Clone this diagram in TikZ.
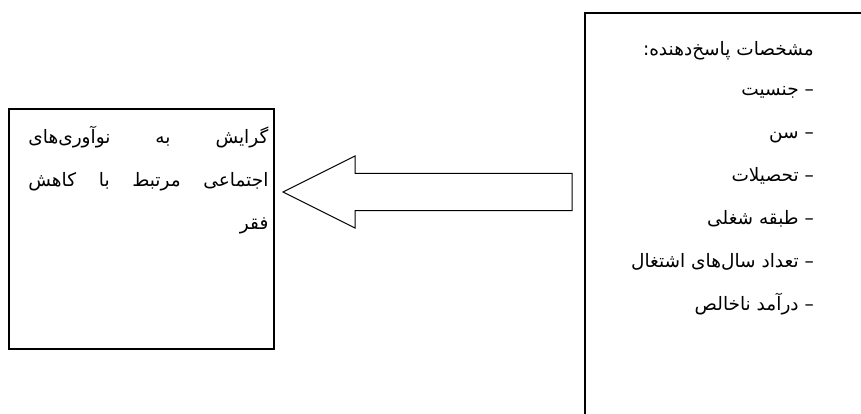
\documentclass[tikz,border=0pt]{standalone}
\usepackage{fontspec}
\newfontfamily\farsi[Script=Arabic]{DejaVu Sans}
\TeXXeTstate=1
\usetikzlibrary{positioning}
\newcommand{\fa}[1]{\beginR #1\endR}
\newcommand{\jline}[1]{\hbox to 240pt{\beginR #1\endR}}

\begin{document}
\begin{tikzpicture}[x=1pt,y=-1pt,line join=miter,
                    font=\farsi\fontsize{18.5}{43}\selectfont]
  \tikzstyle{frame}=[draw,line width=1.6pt,inner sep=0pt,anchor=north west]
  \tikzstyle{farsi text}=[align=right,inner sep=0pt,anchor=north east]

  \useasboundingbox (0,0) rectangle (861,414);
  \clip (0,0) rectangle (861,414);

  \node[frame,minimum width=265pt,minimum height=240pt] (goal)   at (8,108) {};
  \node[frame,minimum width=300pt,minimum height=420pt] (traits) at (584,12) {};

  \node[farsi text] (goaltext) at ([xshift=-6pt,yshift=-18pt]goal.north east)
       {\jline{گرایش\hfill به\hfill نوآوری^^^^200cهای}\\
        \jline{اجتماعی\hfill مرتبط\hfill با\hfill کاهش}\\
        \hbox to 240pt{\hfill\fa{فقر}}};
  \node[farsi text] (traitstext) at (814,41)
       {\fa{مشخصات پاسخ^^^^200cدهنده:}\\[-3pt]
        \fa{– جنسیت}\\
        \fa{– سن}\\
        \fa{– تحصیلات}\\
        \fa{– طبقه شغلی}\\
        \fa{– تعداد سال^^^^200cهای اشتغال}\\
        \fa{– درآمد ناخالص}};

  \coordinate (tip)  at (283,192);
  \coordinate (tail) at (572,192);
  \draw[line width=1pt] (tip) -- ++(72,-36) -- ++(0,17.5)
        -- ([yshift=18.5pt]tail) -- ([yshift=-18.5pt]tail)
        -- ++(-217,0) -- ++(0,17.5) -- cycle;
\end{tikzpicture}
\end{document}
